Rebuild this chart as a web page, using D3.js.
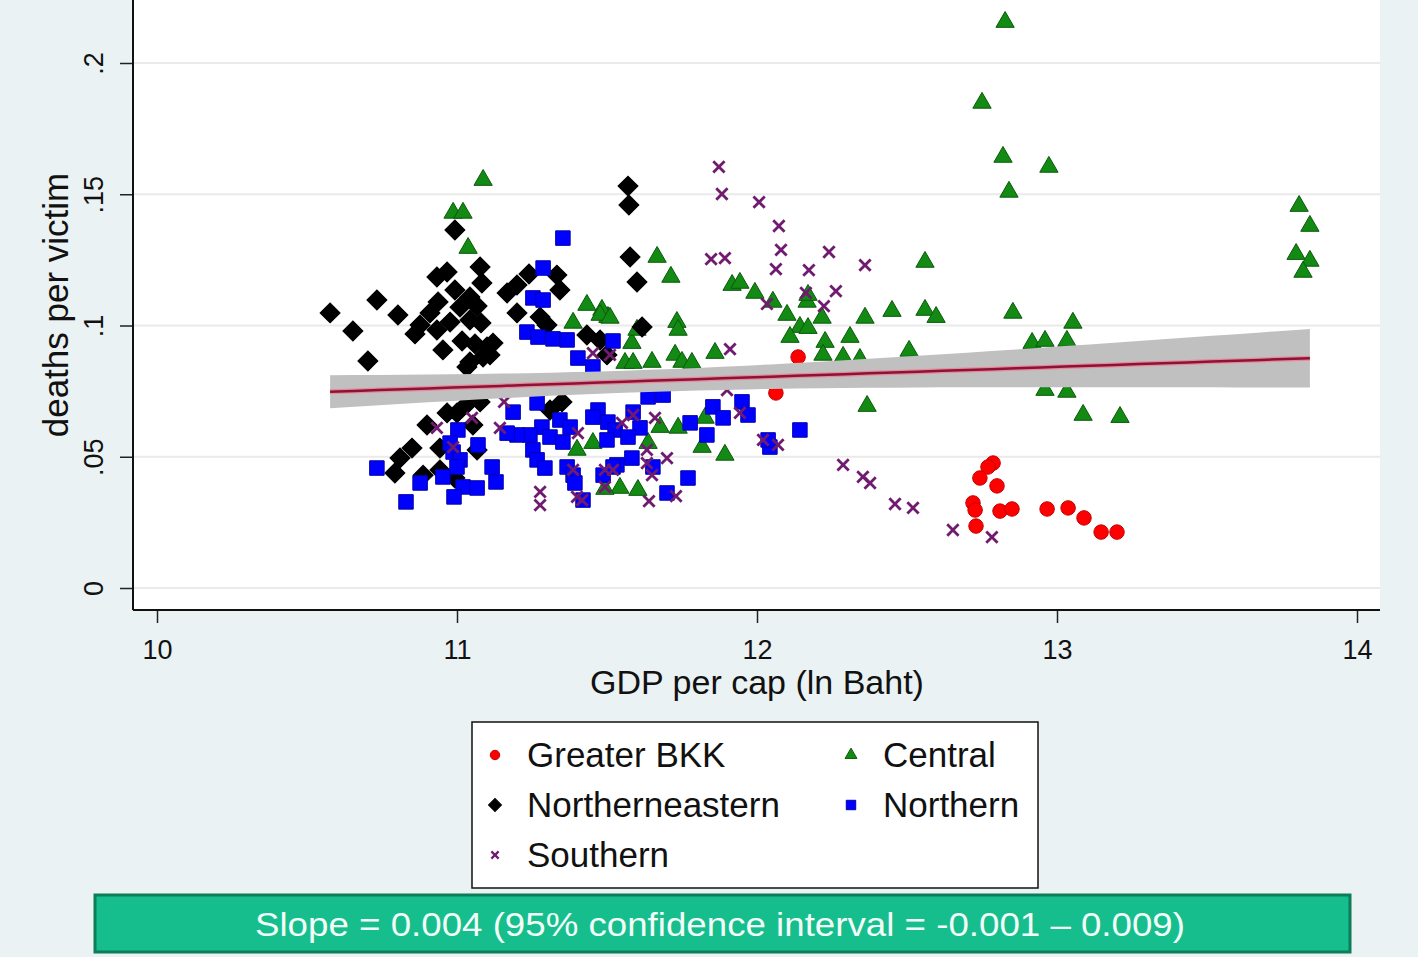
<!DOCTYPE html>
<html>
<head>
<meta charset="utf-8">
<script src="https://cdn.jsdelivr.net/npm/d3@7"></script>
<style>
body { margin: 0; background: #eaf2f3; }
text { font-family: "Liberation Sans", Arial, sans-serif; }
</style>
</head>
<body>
<svg id="chart"></svg>
<script>
// values: [GDP per cap (ln), deaths per victim]
const greaterBkk = [[12.137,.0880],[12.063,.0743],[12.787,.0476],[12.770,.0461],[12.743,.0419],[12.800,.0389],
  [12.720,.0324],[12.727,.0297],[12.810,.0293],[12.850,.0301],[12.730,.0236],[12.967,.0301],[13.037,.0305],
  [13.090,.0267],[13.147,.0213],[13.200,.0213]];

const central = [[12.827,.2156],[12.750,.1848],[12.820,.1642],[12.973,.1604],[12.840,.1509],
  [13.807,.1455],[13.843,.1379],[13.797,.1272],[13.843,.1246],[13.820,.1204],
  [12.560,.1242],[12.560,.1059],[12.597,.1032],[12.853,.1048],[13.053,.1010],
  [12.507,.0903],[12.917,.0933],[12.960,.0941],[13.033,.0941],[12.960,.0754],
  [13.033,.0747],[13.087,.0659],[13.210,.0651],
  [11.087,.1554],[10.987,.1429],[11.020,.1429],[11.037,.1295],
  [11.667,.1261],[11.713,.1185],[11.917,.1154],[11.943,.1162],[11.993,.1124],
  [12.053,.1090],[12.167,.1090],[12.170,.1116],[12.100,.1040],[12.217,.1029],
  [12.360,.1029],[12.450,.1055],[11.733,.1013],[11.737,.0983],[12.143,.0994],
  [12.170,.0990],[12.110,.0956],[12.227,.0937],[12.310,.0956],[11.583,.0933],
  [11.503,.1032],[11.483,.1059],[11.600,.0983],[11.860,.0895],[12.220,.0888],
  [12.287,.0880],[12.343,.0872],[11.560,.0857],[11.587,.0857],[11.650,.0861],
  [11.727,.0888],[11.750,.0861],[11.783,.0857],[12.367,.0693],[11.827,.0648],
  [11.677,.0613],[11.737,.0610],[11.637,.0552],[11.817,.0537],[11.893,.0507],
  [11.543,.0381],[11.603,.0373],[11.493,.0377],[11.433,.1078],[11.387,.1010],
  [11.477,.1040],[11.510,.1029],[11.453,.0552],[11.400,.0526]];

const northeastern = [[11.570,.1531],[11.573,.1459],[10.993,.1364],[11.577,.1261],[11.600,.1166],
  [11.077,.1223],[11.083,.1162],[10.967,.1204],[10.933,.1185],[10.733,.1097],
  [10.577,.1048],[10.653,.0979],[10.803,.1040],[10.703,.0865],[11.167,.1124],
  [11.200,.1154],[11.240,.1196],[11.333,.1192],[11.343,.1135],[10.937,.1090],
  [10.993,.1135],[11.010,.1070],[11.043,.1109],[11.067,.1074],[10.910,.1048],
  [10.877,.1002],[10.860,.0968],[10.933,.0983],[10.977,.1013],[11.043,.1021],
  [11.080,.1010],[10.953,.0907],[11.017,.0941],[11.060,.0930],[11.100,.0918],
  [11.120,.0933],[11.043,.0861],[11.110,.0888],[11.200,.1048],[11.277,.1032],
  [11.300,.1002],[11.433,.0964],[11.477,.0945],[11.500,.0888],[11.617,.0994],
  [11.087,.0880],[11.033,.0842],
  [11.033,.0701],[11.077,.0709],[10.967,.0667],[10.900,.0621],[11.053,.0621],
  [10.850,.0533],[10.810,.0495],[10.793,.0438],[10.887,.0430],[10.943,.0450],
  [10.993,.0419],[11.067,.0526],[11.350,.0709],[11.310,.0678],[11.000,.0667],
  [10.943,.0533]];

const northern = [[11.353,.1333],[11.287,.1219],[11.253,.1105],[11.287,.1097],[11.233,.0975],
  [11.270,.0956],[11.320,.0949],[11.367,.0945],[11.520,.0941],[11.403,.0876],
  [11.453,.0842],
  [11.267,.0705],[11.187,.0670],[11.283,.0613],[11.343,.0640],[11.377,.0613],
  [11.243,.0583],[11.310,.0575],[11.353,.0556],[11.200,.0583],[11.167,.0590],
  [11.003,.0602],[10.977,.0552],[10.987,.0518],[11.010,.0488],[11.070,.0545],
  [11.000,.0461],[11.253,.0526],[11.267,.0488],[11.293,.0457],[11.367,.0461],
  [11.387,.0430],[11.393,.0400],[11.117,.0461],[11.130,.0404],[11.020,.0385],
  [11.067,.0381],[10.990,.0347],[10.877,.0400],[10.953,.0423],[10.733,.0457],
  [10.830,.0328],[11.470,.0678],[11.453,.0651],[11.503,.0632],[11.527,.0602],
  [11.500,.0564],[11.587,.0670],[11.610,.0610],[11.570,.0575],[11.637,.0728],
  [11.420,.0335],[11.583,.0495],[11.533,.0469],[11.653,.0461],[11.487,.0430],
  [11.700,.0362],[11.770,.0419],[11.777,.0629],[11.687,.0735],[11.853,.0690],
  [11.950,.0709],[11.970,.0659],[11.887,.0648],[11.833,.0583],[11.520,.0461],
  [12.143,.0602],[12.043,.0537],[12.037,.0564]];

const southern = [[11.873,.1604],[11.883,.1501],[12.007,.1470],[12.073,.1379],[12.080,.1288],
  [11.847,.1253],[11.893,.1257],[12.063,.1215],[12.173,.1211],[12.240,.1280],
  [12.360,.1230],[12.263,.1131],[12.163,.1124],[12.223,.1074],[12.033,.1082],
  [11.910,.0910],[11.900,.0754],[11.943,.0667],[11.660,.0648],[11.587,.0659],
  [11.550,.0629],[11.700,.0495],[11.633,.0476],[11.650,.0430],[11.640,.0331],
  [11.730,.0350],[11.493,.0450],[11.493,.0385],[12.020,.0564],[12.070,.0545],
  [12.287,.0469],[12.353,.0423],[12.377,.0400],[12.460,.0320],[12.520,.0305],
  [12.653,.0221],[12.783,.0194],[10.933,.0610],[11.050,.0648],[11.157,.0709],
  [11.143,.0610],[11.277,.0366],[11.277,.0316],[11.403,.0590],[11.400,.0347],
  [11.417,.0335],[11.387,.0450],[11.520,.0450],[11.633,.0526],[11.453,.0895],
  [11.510,.0888],[10.987,.0537]];

const xTicks = [10, 11, 12, 13, 14];
const xTickLabels = ['10', '11', '12', '13', '14'];
const yTicks = [0, .05, .1, .15, .2];
const yTickLabels = ['0', '.05', '.1', '.15', '.2'];

// linear fit with 95% CI
const fitIntercept = 0.0334;
const fitSlope = 0.00391;
const fitMeanX = 11.6;
const ciHalfAtMean = 0.0042;
const ciGrowth = 0.00462;

const slopeNote = 'Slope = 0.004 (95% confidence interval = -0.001 \u2013 0.009)';

const svg_width = 1418;
const svg_height = 957;

const svg = d3.select('#chart')
  .attr('width', svg_width)
  .attr('height', svg_height)
  .style('display', 'block');

svg.append('rect').attr('width', svg_width).attr('height', svg_height).attr('fill', '#eaf2f3');

const plot = {left: 133, right: 1380, top: 0, bottom: 610};

const x = d3.scaleLinear().domain([10, 14]).range([157, 1357]);
const y = d3.scaleLinear().domain([0, 0.2]).range([588, 63]);

// plot region
svg.append('rect')
  .attr('x', plot.left).attr('y', plot.top)
  .attr('width', plot.right - plot.left).attr('height', plot.bottom - plot.top)
  .attr('fill', '#ffffff');

// grid
svg.append('g').selectAll('line').data(yTicks).join('line')
  .attr('x1', plot.left + 1).attr('x2', plot.right)
  .attr('y1', d => y(d)).attr('y2', d => y(d))
  .attr('stroke', '#eaeaea').attr('stroke-width', 2);

// axes
const yAxis = svg.append('g')
  .attr('transform', `translate(${plot.left},0)`)
  .call(d3.axisLeft(y).tickValues(yTicks).tickSize(13).tickFormat((d, i) => yTickLabels[i]));
yAxis.select('.domain').remove();
yAxis.selectAll('line').attr('stroke', '#222').attr('stroke-width', 1.5);
yAxis.selectAll('text')
  .attr('x', 0).attr('y', -30).attr('dy', 0)
  .attr('transform', 'rotate(-90)')
  .attr('text-anchor', 'middle')
  .attr('font-size', 27).attr('fill', '#111')
  .attr('font-family', '"Liberation Sans", Arial, sans-serif');

const xAxis = svg.append('g')
  .attr('transform', `translate(0,${plot.bottom})`)
  .call(d3.axisBottom(x).tickValues(xTicks).tickSize(13).tickFormat((d, i) => xTickLabels[i]));
xAxis.select('.domain').remove();
xAxis.selectAll('line').attr('stroke', '#222').attr('stroke-width', 1.5);
xAxis.selectAll('text')
  .attr('y', 49).attr('dy', 0)
  .attr('font-size', 27).attr('fill', '#111')
  .attr('font-family', '"Liberation Sans", Arial, sans-serif');

svg.append('line')
  .attr('x1', plot.left).attr('x2', plot.left)
  .attr('y1', plot.top).attr('y2', plot.bottom)
  .attr('stroke', '#111').attr('stroke-width', 2);
svg.append('line')
  .attr('x1', plot.left).attr('x2', plot.right)
  .attr('y1', plot.bottom).attr('y2', plot.bottom)
  .attr('stroke', '#111').attr('stroke-width', 2);

// axis titles
svg.append('text')
  .attr('transform', 'translate(68,305) rotate(-90)')
  .attr('text-anchor', 'middle')
  .attr('font-size', 35).attr('fill', '#111')
  .text('deaths per victim');

svg.append('text')
  .attr('x', 757).attr('y', 694)
  .attr('text-anchor', 'middle')
  .attr('font-size', 34).attr('fill', '#111')
  .text('GDP per cap (ln Baht)');

// markers
const series = [
  {name: 'Greater BKK', data: greaterBkk, shape: 'circle', fill: '#ff0000', stroke: '#c40000'},
  {name: 'Central', data: central, shape: 'triangle', fill: '#138a13', stroke: '#0a5a0a'},
  {name: 'Northerneastern', data: northeastern, shape: 'diamond', fill: '#000000', stroke: '#000000'},
  {name: 'Northern', data: northern, shape: 'square', fill: '#0000ff', stroke: '#0000b0'},
  {name: 'Southern', data: southern, shape: 'x', fill: 'none', stroke: '#701a70'}
];

function symbolFor(shape, k) {
  if (shape === 'circle') return d3.symbol(d3.symbolCircle, 165 * k * k)();
  if (shape === 'triangle') return d3.symbol(d3.symbolTriangle, 145 * k * k)();
  if (shape === 'diamond') return d3.symbol(d3.symbolSquare, 200 * k * k)();
  if (shape === 'square') return d3.symbol(d3.symbolSquare, 210 * k * k)();
  return d3.symbol(d3.symbolX, 85 * k * k)();
}

function styleMarker(sel, s) {
  sel.attr('fill', s.fill)
    .attr('stroke', s.stroke)
    .attr('stroke-width', s.shape === 'x' ? 2.8 : 1);
}

series.forEach(s => {
  const g = svg.append('g').attr('class', 'series');
  g.selectAll('path').data(s.data).join('path')
    .attr('d', symbolFor(s.shape, 1))
    .attr('transform', d => `translate(${x(d[0])},${y(d[1])})` + (s.shape === 'diamond' ? ' rotate(45)' : ''))
    .call(styleMarker, s);
});

// fitted line and CI band over the range of the data
const allX = series.flatMap(s => s.data.map(d => d[0]));
const [xMin, xMax] = d3.extent(allX);
const fitXs = d3.range(0, 41).map(i => xMin + (xMax - xMin) * i / 40);
const fitAt = v => fitIntercept + fitSlope * v;
const halfAt = v => Math.sqrt(ciHalfAtMean * ciHalfAtMean + ciGrowth * ciGrowth * (v - fitMeanX) * (v - fitMeanX));

svg.append('path')
  .datum(fitXs)
  .attr('d', d3.area().x(d => x(d)).y0(d => y(fitAt(d) - halfAt(d))).y1(d => y(fitAt(d) + halfAt(d))))
  .attr('fill', '#c0c0c0');

svg.append('path')
  .datum(fitXs)
  .attr('d', d3.line().x(d => x(d)).y(d => y(fitAt(d))))
  .attr('fill', 'none').attr('stroke', '#e48a9c').attr('stroke-width', 5);
svg.append('path')
  .datum(fitXs)
  .attr('d', d3.line().x(d => x(d)).y(d => y(fitAt(d))))
  .attr('fill', 'none').attr('stroke', '#8c1236').attr('stroke-width', 2.5);

// legend
const legend = svg.append('g');
legend.append('rect')
  .attr('x', 472).attr('y', 722).attr('width', 566).attr('height', 166)
  .attr('fill', '#ffffff').attr('stroke', '#111').attr('stroke-width', 1.5);

const legendCols = [495, 851];
const legendRows = [755, 805, 855];
series.forEach((s, i) => {
  const cx = legendCols[i % 2];
  const cy = legendRows[Math.floor(i / 2)];
  legend.append('path')
    .attr('d', symbolFor(s.shape, 0.65))
    .attr('transform', `translate(${cx},${cy})` + (s.shape === 'diamond' ? ' rotate(45)' : ''))
    .call(styleMarker, s)
    .attr('stroke-width', s.shape === 'x' ? 2.2 : 1);
  legend.append('text')
    .attr('x', cx + 32).attr('y', cy + 12)
    .attr('font-size', 35).attr('fill', '#111')
    .text(s.name);
});

// slope note
svg.append('rect')
  .attr('x', 95).attr('y', 895).attr('width', 1255).attr('height', 57)
  .attr('fill', '#17be8d').attr('stroke', '#0d7d58').attr('stroke-width', 3);
svg.append('text')
  .attr('x', 720).attr('y', 936)
  .attr('text-anchor', 'middle')
  .attr('font-family', '"DejaVu Sans Condensed", "DejaVu Sans", sans-serif')
  .attr('font-size', 33)
  .attr('textLength', 930).attr('lengthAdjust', 'spacingAndGlyphs')
  .attr('fill', '#f2fdf8')
  .text(slopeNote);
</script>
</body>
</html>
